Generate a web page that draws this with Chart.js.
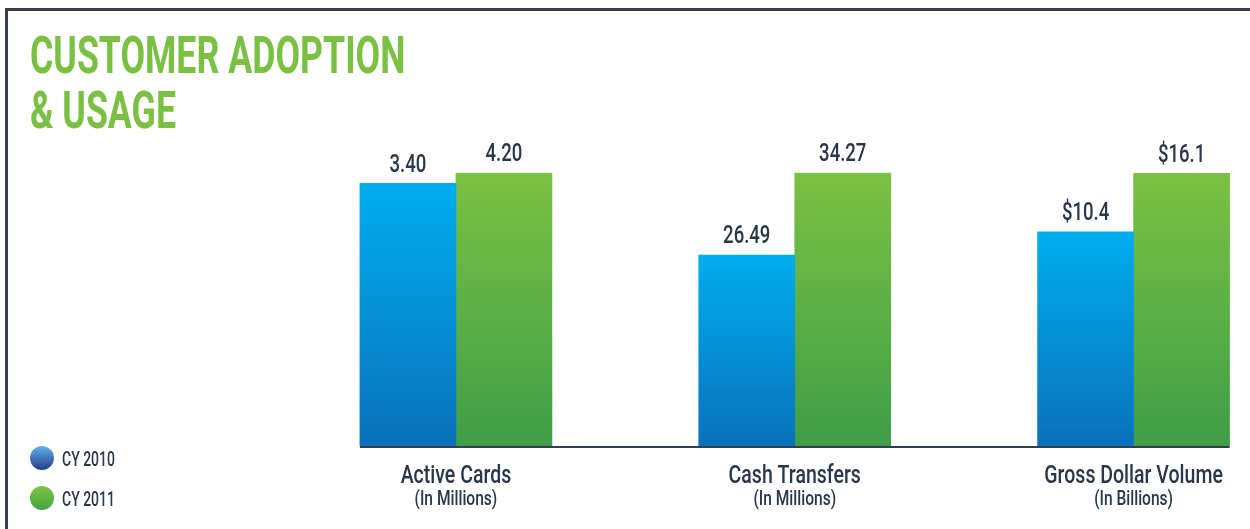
<!DOCTYPE html>
<html><head><meta charset="utf-8">
<script src="https://cdn.jsdelivr.net/npm/chart.js@4.4.1/dist/chart.umd.min.js"></script>
<style>
html,body{margin:0;padding:0;background:#fff;overflow:hidden;width:1250px;height:529px;}
#frame{position:absolute;left:5px;top:8px;width:1400px;height:600px;border-top:3px solid #353f49;border-left:3px solid #353f49;}
#c{position:absolute;left:0;top:0;}
</style></head><body>
<div id="frame"></div>
<canvas id="c" width="1303" height="529"></canvas>
<script>
// ---- data ----
const titleLines = ['CUSTOMER ADOPTION', '& USAGE'];
const categories = ['Active Cards', 'Cash Transfers', 'Gross Dollar Volume'];
const units = ['(In Millions)', '(In Millions)', '(In Billions)'];
const seriesNames = ['CY 2010', 'CY 2011'];
const valueLabels2010 = ['3.40', '26.49', '$10.4'];
const valueLabels2011 = ['4.20', '34.27', '$16.1'];
// bar heights as drawn in the picture, relative to the tallest bar (=100)
const barHeight2010 = [96.1, 69.9, 78.4];
const barHeight2011 = [100, 100, 99.8];

// ---- styles ----
const FONT = 'Roboto, "DejaVu Sans", sans-serif';
const TEXT = '#28384a';
const GREEN_TITLE = '#7ac143';
const palette = [
  {top: '#00aeef', bottom: '#0a71bc', dotTop: '#5fb3ea', dotBottom: '#283b8e'},
  {top: '#7bc143', bottom: '#3f9e48', dotTop: '#7fc343', dotBottom: '#44a444'}
];

function barGradient(i) {
  return (ctx) => {
    const chart = ctx.chart;
    const s = chart.scales && chart.scales.y;
    if (!chart.chartArea || !s || ctx.raw === undefined) return palette[i].top;
    const yTop = s.getPixelForValue(ctx.raw);
    const yBot = s.getPixelForValue(0);
    const g = chart.ctx.createLinearGradient(0, yTop, 0, yBot);
    g.addColorStop(0, palette[i].top);
    g.addColorStop(1, palette[i].bottom);
    return g;
  };
}

function txt(ctx, s, x, y, size, weight, color, align, sx) {
  ctx.save();
  ctx.translate(x, y);
  ctx.scale(sx, 1);
  ctx.font = weight + ' ' + size + 'px ' + FONT;
  ctx.fillStyle = color;
  ctx.textAlign = align;
  ctx.textBaseline = 'alphabetic';
  ctx.fillText(s, 0, 0);
  ctx.restore();
}

const decor = {
  id: 'decor',
  afterDraw(chart) {
    const ctx = chart.ctx;
    const area = chart.chartArea;
    const xs = chart.scales.x;
    const m0 = chart.getDatasetMeta(0), m1 = chart.getDatasetMeta(1);
    // baseline under the bars
    const first = m0.data[0], last = m1.data[m1.data.length - 1];
    ctx.save();
    ctx.strokeStyle = '#2f3f4c';
    ctx.lineWidth = 2;
    ctx.beginPath();
    ctx.moveTo(first.x - first.width / 2, area.bottom + 1);
    ctx.lineTo(last.x + last.width / 2, area.bottom + 1);
    ctx.stroke();
    ctx.restore();
    // value labels
    [[m0, valueLabels2010], [m1, valueLabels2011]].forEach(([m, labs]) => {
      m.data.forEach((el, i) => {
        txt(ctx, labs[i], el.x, el.y - 11.5, 26.5, 500, TEXT, 'center', 0.7);
      });
    });
    // category labels
    categories.forEach((c, i) => {
      const x = xs.getPixelForValue(i);
      txt(ctx, c, x, area.bottom + 37.3, 25.7, 500, TEXT, 'center', 0.76);
      txt(ctx, units[i], x, area.bottom + 59, 19.7, 500, TEXT, 'center', 0.79);
    });
    // title
    titleLines.forEach((t, i) => {
      txt(ctx, t, 30, 73 + i * 55, 51, 700, GREEN_TITLE, 'left', 0.70);
    });
    // legend
    seriesNames.forEach((n, i) => {
      const cy = 458 + i * 40;
      const g = ctx.createLinearGradient(0, cy - 12, 0, cy + 12);
      g.addColorStop(0, palette[i].dotTop);
      g.addColorStop(1, palette[i].dotBottom);
      ctx.save();
      ctx.fillStyle = g;
      ctx.beginPath();
      ctx.arc(42, cy, 12, 0, Math.PI * 2);
      ctx.fill();
      ctx.restore();
      txt(ctx, n, 62, cy + 8, 19.7, 500, TEXT, 'left', 0.71);
    });
  }
};

new Chart(document.getElementById('c'), {
  type: 'bar',
  data: {
    labels: categories,
    datasets: [
      {label: seriesNames[0], data: barHeight2010, backgroundColor: barGradient(0), borderWidth: 0},
      {label: seriesNames[1], data: barHeight2011, backgroundColor: barGradient(1), borderWidth: 0}
    ]
  },
  options: {
    responsive: false,
    animation: false,
    events: [],
    barThickness: 96,
    layout: {padding: {left: 286.5, right: 0, top: 172.7, bottom: 83}},
    scales: {
      x: {display: false, offset: true},
      y: {display: false, min: 0, max: 100}
    },
    plugins: {legend: {display: false}, title: {display: false}, tooltip: {enabled: false}}
  },
  plugins: [decor]
});
</script>
</body></html>
